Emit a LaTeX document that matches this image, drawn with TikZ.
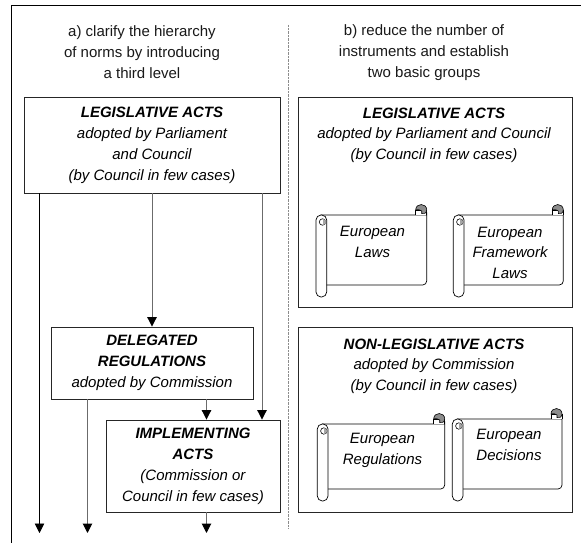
\documentclass[tikz,border=0pt]{standalone}
\usepackage{fontspec}
\setmainfont{Liberation Sans}
\usetikzlibrary{arrows.meta}
\definecolor{lineg}{gray}{0.42}
\tikzset{
  x=1pt,y=-1pt,
  box/.style={draw=black!85,line width=0.9pt,fill=white,inner sep=0pt,align=center,font=\fontsize{15}{21}\selectfont\itshape},
  lab/.style={inner sep=0pt,align=center,text=black!90,font=\fontsize{15}{21}\selectfont},
  stxt/.style={inner sep=0pt,align=center,font=\fontsize{15}{20.5}\selectfont\itshape},
  flow/.style={draw=lineg,line width=1pt,-{Triangle[length=9.5pt,width=9.5pt,black]}},
  flowk/.style={flow,draw=black,line width=0.7pt},
  scr/.style={draw=black,line width=0.7pt,fill=white},
  curl/.style={draw=black,line width=0.6pt,fill=black!45},
}
\newcommand{\scroll}[4]{% left, top, right, sheet bottom
  \pgfmathsetmacro{\xa}{#1}\pgfmathsetmacro{\ya}{#2}\pgfmathsetmacro{\xb}{#3}\pgfmathsetmacro{\yb}{#4}
  \pgfmathsetmacro{\xt}{\xa+10.7}\pgfmathsetmacro{\yt}{\yb+12}
  \pgfmathsetmacro{\xc}{\xb-5.5}\pgfmathsetmacro{\yc}{\ya-5}
  \pgfmathsetmacro{\xl}{\xb-11}\pgfmathsetmacro{\xd}{\xa+6.5}\pgfmathsetmacro{\yd}{\ya+7}
  \path[scr,rounded corners=4pt] (\xa+5,\yb) -- (\xb,\yb) -- (\xb,\yc) [sharp corners] -- (\xb,\ya) -- (\xa+5,\ya) -- cycle;
  \path[draw=black,line width=0.7pt,fill=white] (\xl,\ya) -- (\xl,\yc) -- (\xb,\yc) -- (\xb,\ya);
  \path[curl] (\xl,\yc) .. controls (\xl,\yc-7.3) and (\xb,\yc-7.3) .. (\xb,\yc)
     .. controls (\xb,\yc+3) and (\xc+2.5,\yc+4.5) .. (\xc+0.5,\yc+3.5) -- (\xc+0.5,\yc+1)
     .. controls (\xc-1,\yc-1.5) and (\xl+1,\yc) .. (\xl,\yc) -- cycle;
  \path[scr,rounded corners=5pt] (\xa,\ya) rectangle (\xt,\yt);
  \path[draw=black,line width=0.6pt,fill=white] (\xd,\yd) circle[radius=3.2];
  \path[draw=none,fill=black!35] (\xd,\yd-3) .. controls (\xd+4,\yd-3) and (\xd+4,\yd+3) .. (\xd,\yd+3) -- cycle;
}
\begin{document}
\begin{tikzpicture}
\useasboundingbox (0,0) rectangle (581,543);
\fill[white] (0,0) rectangle (581,543);
\draw[black,line width=1.8pt] (11.5,543) -- (11.5,5.5) -- (581,5.5);
\coordinate (dtop) at (288.5,25);
\coordinate (dbot) at (288.5,528);
\draw[black!45,line width=1pt,dash pattern=on 0.7pt off 0.7pt] (dtop) -- (dbot);
\node[lab] (ta) at (142,52.5) {a) clarify the hierarchy\\of norms by introducing\\a third level};
\node[lab] (tb) at (424,52.5) {b) reduce the number of\\instruments and establish\\two basic groups};

\node[box,minimum width=256pt,minimum height=96pt] (leg) at (152,145)
 {\textbf{LEGISLATIVE ACTS}\\adopted by Parliament\\and Council\\(by Council in few cases)};
\node[box,minimum width=202pt,minimum height=72pt] (del) at (152,363)
 {\textbf{DELEGATED}\\\textbf{REGULATIONS}\\adopted by Commission};
\node[box,minimum width=174pt,minimum height=92pt] (imp) at (193,466)
 {\textbf{IMPLEMENTING}\\\textbf{ACTS}\\(Commission or\\Council in few cases)};

\coordinate (e1) at (39.5,533);
\coordinate (e2) at (87.5,533);
\coordinate (e3) at (206.5,533);
\coordinate (a1) at (262,0);
\coordinate (a2) at (206.5,0);
\draw[flowk] (leg.south -| e1) -- (e1);
\draw[flow] (leg.south) -- (del.north);
\draw[flow] (del.south -| e2) -- (e2);
\draw[flow] (leg.south -| a1) -- (imp.north -| a1);
\draw[flow] (del.south -| a2) -- (imp.north -| a2);
\draw[flow] (imp.south -| e3) -- (e3);

\node[box,minimum width=274pt,minimum height=210pt] (rt) at (435,202) {};
\node[stxt] (rth) at (434,135) {\textbf{LEGISLATIVE ACTS}\\adopted by Parliament and Council\\(by Council in few cases)};
\scroll{316}{215}{426.7}{285}
\node[stxt] (s1) at (372.5,242) {European\\Laws};
\scroll{453.3}{215}{563.3}{285}
\node[stxt] (s2) at (510,252.5) {European\\Framework\\Laws};

\node[box,minimum width=274pt,minimum height=185pt] (rb) at (435,419.5) {};
\node[stxt] (rbh) at (434,366) {\textbf{NON-LEGISLATIVE ACTS}\\adopted by Commission\\(by Council in few cases)};
\scroll{317.3}{424}{444.7}{489}
\node[stxt] (s3) at (382.5,450.5) {European\\Regulations};
\scroll{452.3}{419}{562}{489}
\node[stxt] (s4) at (509,445) {European\\Decisions};
\end{tikzpicture}
\end{document}
